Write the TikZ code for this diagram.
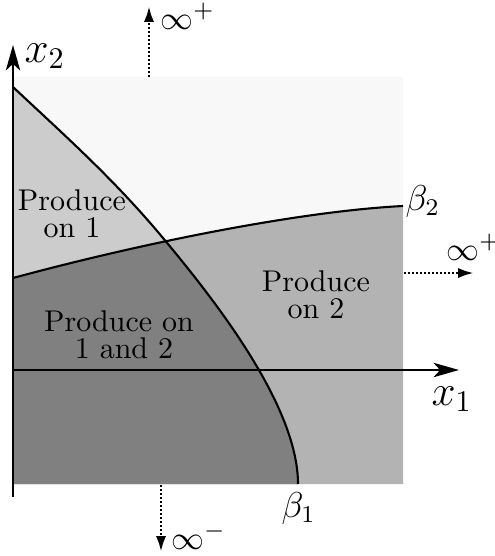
\documentclass[tikz,border=0pt]{standalone}
\usetikzlibrary{arrows.meta}
\definecolor{cTop}{HTML}{F8F8F8}
\definecolor{cOne}{HTML}{CCCCCC}
\definecolor{cTwo}{HTML}{B3B3B3}
\definecolor{cBoth}{HTML}{808080}
\begin{document}
\begin{tikzpicture}[x=0.33333pt,y=-0.33333pt,
  axis/.style={line width=0.6pt,-{Stealth[length=8.5pt,width=4.8pt,inset=2.2pt]}},
  bound/.style={line width=0.7pt},
  toinf/.style={line width=0.95pt,dash pattern=on 0.75pt off 0.58pt,-{Latex[length=5.3pt,width=3.4pt]}},
  region/.style={font=\fontsize{10}{9}\selectfont,align=center,inner sep=0pt},
  lab/.style={inner sep=0pt,anchor=base west},
  blab/.style={lab,font=\large},
  ilab/.style={lab,font=\fontsize{11}{13}\selectfont}]
\useasboundingbox (0,0) rectangle (495,556);
% regions
\fill[cTop] (13,77) rectangle (403,484);
\fill[cOne] (13,87) .. controls (63,134) and (113,178) .. (163,238)
   .. controls (213,298) and (298,405) .. (298,484) -- (13,484) -- cycle;
\fill[cTwo] (13,278) .. controls (148,241.5) and (303,211) .. (403,206)
   -- (403,484) -- (13,484) -- cycle;
\begin{scope}
  \clip (13,87) .. controls (63,134) and (113,178) .. (163,238)
   .. controls (213,298) and (298,405) .. (298,484) -- (13,484) -- cycle;
  \fill[cBoth] (13,278) .. controls (148,241.5) and (303,211) .. (403,206)
   -- (403,484) -- (13,484) -- cycle;
\end{scope}
% boundaries
\draw[bound] (13,87) .. controls (63,134) and (113,178) .. (163,238)
   .. controls (213,298) and (298,405) .. (298,484);
\draw[bound] (13,278) .. controls (148,241.5) and (303,211) .. (403,206);
% axes
\coordinate (ybot) at (13,497);
\coordinate (ytop) at (13,45);
\coordinate (xleft) at (13,370);
\coordinate (xright) at (459,370);
\draw[axis] (ybot) -- (ytop);
\draw[axis] (xleft) -- (xright);
% dotted arrows
\coordinate (ts) at (149,77);
\coordinate (te) at (149,6);
\coordinate (rs) at (404,273);
\coordinate (re) at (474,273);
\coordinate (bs) at (161,485);
\coordinate (be) at (161,552);
\draw[toinf] (ts) -- (te);
\draw[toinf] (rs) -- (re);
\draw[toinf] (bs) -- (be);
% labels
\node[lab,font=\Large] (lx2) at (24,62) {$x_2$};
\node[lab,font=\Large] (lx1) at (431,405) {$x_1$};
\node[blab] (lb1) at (281,517) {$\beta_1$};
\node[blab] (lb2) at (405,210) {$\beta_2$};
\node[ilab] (inftop) at (160,29.5) {$\infty^+$};
\node[ilab] (infright) at (446,260) {$\infty^+$};
\node[ilab] (infbot) at (171,549) {$\infty^-$};
\node[region] (p1) at (72,213.6) {Produce\\on 1};
\node[region] (p2) at (316,295) {Produce\\on 2};
\node[region] (p12) at (124,335) {Produce on\hspace*{3.33pt}\\1 and 2};
\end{tikzpicture}
\end{document}
